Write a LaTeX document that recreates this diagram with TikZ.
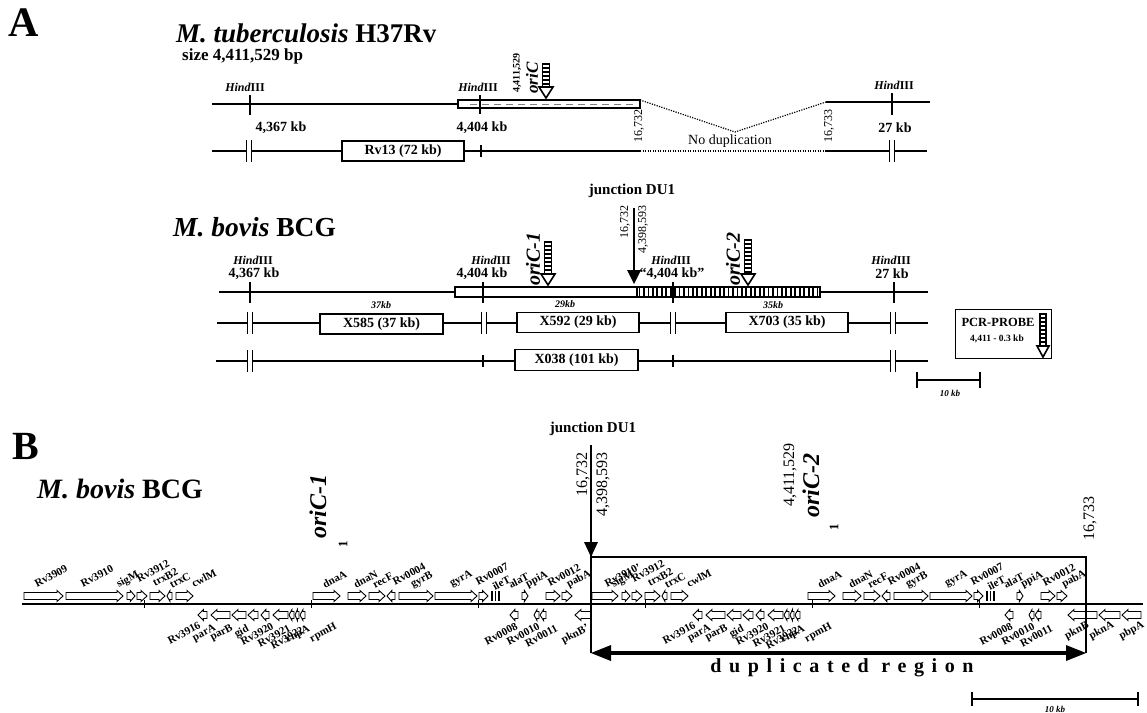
\documentclass[tikz,border=0pt]{standalone}
\usepackage{fontspec}
\setmainfont{Liberation Serif}
\usetikzlibrary{calc}
\newcommand\fs[1]{\fontsize{#1}{#1}\selectfont}
\tikzset{
  txt/.style={inner sep=0pt},
  hind/.style={inner sep=0pt, font=\bfseries\fs{12}},
  kb/.style={inner sep=0pt, font=\bfseries\fs{14}},
  seg/.style={draw, fill=white, line width=1.3pt, inner sep=0pt, minimum height=20pt, font=\bfseries\fs{14}},
  thinline/.style={line width=1.1pt},
  thickline/.style={line width=2.8pt},
  tickmark/.style={line width=1.3pt},
  genebox/.style={draw, fill=white, line width=0.9pt, line join=miter},
  glab/.style={inner sep=0pt, rotate=28, font=\bfseries\fs{11}},
  vert/.style={inner sep=0pt, rotate=90},
  dotline/.style={line width=1.2pt, dash pattern=on 1.2pt off 1.3pt},
}
\newcommand\dtick[2]{%
  \fill[white] (#1-2,#2-3) rectangle (#1+2,#2+3);
  \draw[tickmark] (#1-2.5,#2-11) -- (#1-2.5,#2+11) (#1+2.5,#2-11) -- (#1+2.5,#2+11);}
\newcommand\oriarrow[4]{%
  \pgfmathsetmacro\hy{#3-11}%
  \draw[line width=1.1pt, fill=white] (#1-#4,#2) rectangle (#1+#4,\hy);
  \foreach \k in {1,...,20} {\pgfmathsetmacro\yy{#2+4*\k}\ifdim\yy pt<\hy pt \draw[line width=1.1pt] (#1-#4,\yy) -- (#1+#4,\yy);\fi}
  \draw[line width=1.6pt, fill=white, line join=miter] (#1-2*#4,\hy) -- (#1+2*#4,\hy) -- (#1,#3) -- cycle;}
\newcommand\gfwd[2]{%
  \pgfmathsetmacro\hl{min(6,0.6*(#2-#1))}%
  \draw[genebox] (#1,592.5) -- (#2-\hl,592.5) -- (#2-\hl,590.5) -- (#2,596) -- (#2-\hl,601.5) -- (#2-\hl,599.5) -- (#1,599.5) -- cycle;}
\newcommand\gleft[2]{%
  \pgfmathsetmacro\hl{min(6,0.6*(#2-#1))}%
  \draw[genebox] (#2,592.5) -- (#1+\hl,592.5) -- (#1+\hl,590.5) -- (#1,596) -- (#1+\hl,601.5) -- (#1+\hl,599.5) -- (#2,599.5) -- cycle;}
\newcommand\grev[2]{%
  \pgfmathsetmacro\hl{min(6,0.6*(#2-#1))}%
  \draw[genebox] (#2,611.5) -- (#1+\hl,611.5) -- (#1+\hl,609.5) -- (#1,615) -- (#1+\hl,620.5) -- (#1+\hl,618.5) -- (#2,618.5) -- cycle;}
\newcommand\genecopy[1]{%
  \foreach \a/\b in {31/39, 41/51, 54/69, 80/97, 217/244, 252/270, 273/289, 303/337, 339/381, 383/392, 426/432, 450/464, 466/476} {\gfwd{\a}{\b}}
  \foreach \a/\b in {71/76, 291/299} {\gleft{\a}{\b}}
  \foreach \a in {396,399.5,403} {\fill (\a-0.9,591) rectangle (\a+0.9,601);}
  \foreach \a/\b in {102/111, 115/134, 136/150, 152/162, 165/173, 177/192, 193/198, 199/203, 204/209, 414/422, 438/443, 444/450} {\grev{\a}{\b}}
  \foreach \x/\y/\t/\n in {24/590/sigM/a, 43/583/Rv3912/b, 59/587/trxB2/c, 76/589/trxC/d, 98/588/cwlM/e, 229/589/dnaA/f, 260/589/dnaN/g, 279/589/recF/h, 299/586/Rv0004/i, 318/590/gyrB/j, 357/589/gyrA/k, 382/586/Rv0007/l, 399/591/ileT/m, 415/589/alaT/n, 433/590/ppiA/o, 454/587/Rv0012/p, 474/590/pabA/q}
    {\node[glab, anchor=south west] (u\n#1) at (\x,\y) {\t};}
  \foreach \x/\y/\t/\n in {102/621/Rv3916/a, 117/623/parA/b, 134/623/parB/c, 150/624/gid/d, 175/622/Rv3920/e, 192/624/Rv3921/f, 205/626/Rv3922/g, 211/624/rnpA/h, 238/622/rpmH/i, 419/622/Rv0008/j, 441/622/Rv0010/k, 459/624/Rv0011/l}
    {\node[glab, anchor=north east] (d\n#1) at (\x,\y) {\t};}
}
\begin{document}
\begin{tikzpicture}[x=1pt,y=-1pt]
\useasboundingbox (0,0) rectangle (1147,712);
\clip (0,0) rectangle (1147,712);
\fill[white] (0,0) rectangle (1147,712);

% ================= Panel A =================
\node[txt, anchor=north west, font=\bfseries\fs{42}] (A) at (8,9) {A};
\node[txt, anchor=base west, font=\bfseries\fs{27}] (ttl1) at (176,42) {\textit{M. tuberculosis} H37Rv};
\node[txt, anchor=base west, font=\bfseries\fs{17}] (size) at (182,60) {size 4,411,529 bp};

% H37Rv top row
\draw[thinline] (212,104) -- (458,104);
\draw[line width=1.2pt, fill=white] (458,100) rectangle (640,108);
\draw[line width=0.6pt, dash pattern=on 7pt off 5pt, gray] (470,104) -- (636,104);
\draw[thinline] (826,102) -- (930,102);
\draw[tickmark] (250,95) -- (250,115);
\draw[tickmark] (480,95) -- (480,114);
\draw[tickmark] (892,93) -- (892,115);
\draw[dotline] (640,100) -- (735,132) -- (826,102);
\node[hind] (h1) at (245,87) {\textit{Hind}III};
\node[hind] (h2) at (478,87) {\textit{Hind}III};
\node[hind] (h3) at (894,85) {\textit{Hind}III};
\node[vert, font=\bfseries\fs{10}, anchor=west] (p4411a) at (517,93) {4,411,529};
\node[vert, font=\bfseries\itshape\fs{17}, anchor=west] (oriCa) at (532,94) {oriC};
\oriarrow{546}{64}{98}{3.5}
\node[vert, font=\fs{12}, anchor=west] (n16732a) at (639,143) {16,732};
\node[vert, font=\fs{12}, anchor=west] (n16733a) at (829,143) {16,733};
\node[kb] (k1) at (281,128) {4,367 kb};
\node[kb] (k2) at (482,128) {4,404 kb};
\node[kb] (k3) at (895,128) {27 kb};
\node[txt, font=\fs{14}] (nodup) at (730,141) {No duplication};
% H37Rv bottom row
\draw[thickline] (212,151) -- (640,151);
\draw[dotline] (640,151) -- (825,151);
\draw[thickline] (825,151) -- (927,151);
\node[seg, minimum width=122pt] (rv13) at (403,151) {Rv13 (72 kb)};
\draw[tickmark] (481,145) -- (481,157);
\dtick{249}{151}
\dtick{892}{151}

% BCG (panel A)
\node[txt, font=\bfseries\fs{15}] (jdu1a) at (632,191) {junction DU1};
\node[txt, anchor=base west, font=\bfseries\fs{27.5}] (ttl2) at (173,236) {\textit{M. bovis} BCG};
\draw[thinline] (219,292) -- (928,292);
\draw[line width=1.2pt, fill=white] (455,287) rectangle (637,297);
\draw[line width=1.2pt, fill=white] (637,287) rectangle (820,297);
\foreach \k in {0,...,40} {\draw[line width=1.8pt] (639.5+4.45*\k,287) -- (639.5+4.45*\k,297);}
\foreach \x in {250,483,673,894} {\draw[tickmark] (\x,282) -- (\x,303);}
\node[hind] (h4) at (253,260) {\textit{Hind}III};
\node[hind] (h5) at (491,260) {\textit{Hind}III};
\node[hind] (h6) at (671,260) {\textit{Hind}III};
\node[hind] (h7) at (891,260) {\textit{Hind}III};
\node[kb] (k4) at (254,274) {4,367 kb};
\node[kb] (k5) at (482,274) {4,404 kb};
\node[kb] (k6) at (672,274) {``4,404 kb''};
\node[kb] (k7) at (892,274) {27 kb};
\node[vert, font=\bfseries\itshape\fs{20}, anchor=west] (oriC1a) at (533,286) {oriC-1};
\oriarrow{548}{242}{285}{3.5}
\node[vert, font=\bfseries\itshape\fs{20}, anchor=west] (oriC2a) at (733,286) {oriC-2};
\oriarrow{748}{240}{285}{3.5}
\draw[line width=1.3pt] (634,208) -- (634,272);
\fill (627,270) -- (641,270) -- (634,284) -- cycle;
\node[vert, font=\fs{12}, anchor=east] (n16732b) at (625,205) {16,732};
\node[vert, font=\fs{12}, anchor=east] (n4398b) at (643,205) {4,398,593};
\node[txt, font=\bfseries\itshape\fs{10}] (kb37) at (381,305) {37kb};
\node[txt, font=\bfseries\itshape\fs{10}] (kb29) at (565,304) {29kb};
\node[txt, font=\bfseries\itshape\fs{10}] (kb35) at (773,305) {35kb};
% middle row
\draw[thickline] (217,323) -- (928,323);
\node[seg, minimum width=123pt] (x585) at (381.5,324) {X585 (37 kb)};
\node[seg, minimum width=122pt] (x592) at (578,322.5) {X592 (29 kb)};
\node[seg, minimum width=122pt] (x703) at (787,322.5) {X703 (35 kb)};
\dtick{250}{323}
\dtick{484}{323}
\dtick{673}{323}
\dtick{893}{323}
% bottom row
\draw[thickline] (216,361) -- (928,361);
\node[seg, minimum width=123pt, minimum height=21pt] (x038) at (576.5,360) {X038 (101 kb)};
\dtick{250}{361}
\dtick{893}{361}
\draw[tickmark] (483,355) -- (483,367);
\draw[tickmark] (673,355) -- (673,367);
% PCR probe
\draw[line width=0.8pt] (955,309) rectangle (1051,358);
\node[txt, font=\bfseries\fs{12.5}] (pcr) at (998,322) {PCR-PROBE};
\node[txt, font=\bfseries\fs{9.5}] (pcr2) at (997,339) {4,411 - 0.3 kb};
\oriarrow{1043}{314}{357}{3}
% scale bar A
\draw[line width=1.3pt] (917,380) -- (980,380);
\draw[line width=1.3pt] (917,372) -- (917,388) (980,372) -- (980,388);
\node[txt, font=\bfseries\itshape\fs{9}] (sbA) at (950,393) {10 kb};

% ================= Panel B =================
\node[txt, anchor=north west, font=\bfseries\fs{40}] (B) at (12,433) {B};
\node[txt, anchor=base west, font=\bfseries\fs{28}] (ttl3) at (37,498) {\textit{M. bovis} BCG};
\node[txt, font=\bfseries\fs{15}] (jdu1b) at (593,429) {junction DU1};
\node[vert, font=\fs{16}, anchor=east] (n16732c) at (583,452) {16,732};
\node[vert, font=\fs{16}, anchor=east] (n4398c) at (603,452) {4,398,593};
\node[vert, font=\bfseries\itshape\fs{24}, anchor=west] (oriC1b) at (318,539) {oriC-1};
\node[vert, font=\bfseries\fs{13}] (one1) at (343,544) {1};
\node[vert, font=\fs{16}, anchor=west] (n4411c) at (790,507) {4,411,529};
\node[vert, font=\bfseries\itshape\fs{24}, anchor=west] (oriC2b) at (811,518) {oriC-2};
\node[vert, font=\bfseries\fs{13}] (one2) at (834,527) {1};
\node[vert, font=\fs{16}, anchor=west] (n16733c) at (1090,541) {16,733};

% gene line and ticks
\draw[line width=1.2pt] (22,604) -- (1143,604);
\foreach \x in {144,311,478,645,812,979} {\draw[line width=1pt] (\x,600) -- (\x,608);}

% copy 1 extras
\gfwd{24}{63}
\gfwd{66}{123}
\node[glab, anchor=south west] (l3909) at (37,588) {Rv3909};
\node[glab, anchor=south west] (l3910) at (83,588) {Rv3910};
\grev{575}{591}
\node[glab, anchor=north east] (lpknB1) at (586,623) {pknB'};
\begin{scope}[xshift=96pt]
  \genecopy{1}
\end{scope}
% copy 2
\gfwd{592}{618}
\node[glab, anchor=south west] (l3910b) at (607,588) {Rv3910'};
\begin{scope}[xshift=591pt]
  \genecopy{2}
\end{scope}
\grev{1068}{1097}
\grev{1099}{1120}
\grev{1122}{1141}
\node[glab, anchor=north east] (lpknB2) at (1086,620) {pknB};
\node[glab, anchor=north east] (lpknA) at (1111,620) {pknA};
\node[glab, anchor=north east] (lpbpA) at (1141,620) {pbpA};

% duplicated region frame and junction
\draw[line width=1.2pt] (591,557) -- (1086,557) -- (1086,653);
\draw[line width=1.3pt] (591,445) -- (591,653);
\fill (584,542) -- (598,542) -- (591,557) -- cycle;
\draw[line width=4pt] (606,653) -- (1071,653);
\fill (591,653) -- (611,645) -- (611,661) -- cycle;
\fill (1086,653) -- (1066,645) -- (1066,661) -- cycle;
\node[txt, font=\bfseries\fs{20}\addfontfeatures{LetterSpace=38}] (dup) at (842,668) {duplicated region};

% scale bar B
\draw[line width=1.3pt] (972,699) -- (1138,699);
\draw[line width=1.3pt] (972,692) -- (972,706) (1138,692) -- (1138,706);
\node[txt, anchor=north, font=\bfseries\itshape\fs{9}] (sbB) at (1055,706) {10 kb};
\end{tikzpicture}
\end{document}
